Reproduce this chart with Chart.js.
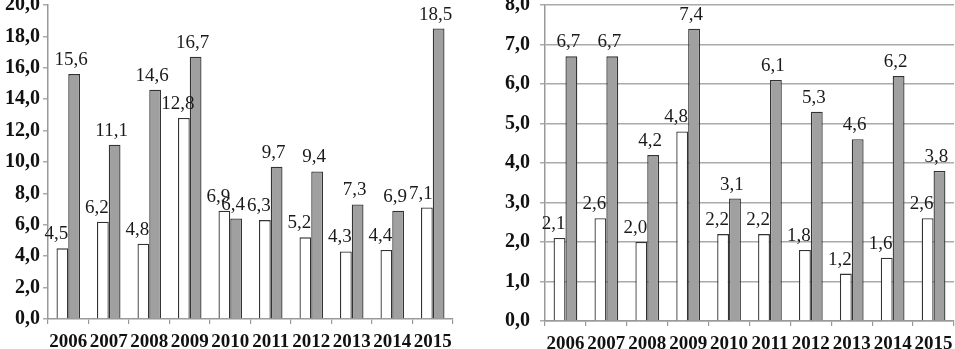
<!DOCTYPE html>
<html>
<head>
<meta charset="utf-8">
<script src="https://cdn.jsdelivr.net/npm/chart.js@4"></script>
<style>
  html, body { margin: 0; padding: 0; background: #fff; }
  body { width: 955px; height: 349px; position: relative; overflow: hidden; }
  .box { position: absolute; top: 0; height: 349px; }
  #b1 { left: 0; width: 462px; }
  #b2 { left: 470px; width: 485px; }
</style>
</head>
<body>
<div class="box" id="b1"><canvas id="c1"></canvas></div>
<div class="box" id="b2"><canvas id="c2"></canvas></div>
<script>
const years = ['2006','2007','2008','2009','2010','2011','2012','2013','2014','2015'];
const leftWhite = [4.5, 6.2, 4.8, 12.8, 6.9, 6.3, 5.2, 4.3, 4.4, 7.1];
const leftGray  = [15.6, 11.1, 14.6, 16.7, 6.4, 9.7, 9.4, 7.3, 6.9, 18.5];
const rightWhite = [2.1, 2.6, 2.0, 4.8, 2.2, 2.2, 1.8, 1.2, 1.6, 2.6];
const rightGray  = [6.7, 6.7, 4.2, 7.4, 3.1, 6.1, 5.3, 4.6, 6.2, 3.8];
const leftTicks = { min: 0, max: 20, step: 2 };
const rightTicks = { min: 0, max: 8, step: 1 };

const fmt = v => v.toFixed(1).replace('.', ',');
const SERIF = "'Liberation Serif', 'Times New Roman', serif";

const labelPlugin = {
  id: 'valLabels',
  afterDatasetsDraw(chart) {
    const ctx = chart.ctx;
    ctx.save();
    ctx.font = '19px ' + SERIF;
    ctx.fillStyle = '#1a1a1a';
    ctx.textAlign = 'center';
    ctx.textBaseline = 'alphabetic';
    chart.data.datasets.forEach((ds, i) => {
      const meta = chart.getDatasetMeta(i);
      const dx = i === 0 ? -6 : -3;
      meta.data.forEach((el, j) => {
        ctx.fillText(fmt(ds.data[j]), el.x + dx, el.y - 9);
      });
    });
    ctx.restore();
  }
};

function makeChart(id, white, gray, t, opts) {
  return new Chart(document.getElementById(id), {
    type: 'bar',
    data: {
      labels: years,
      datasets: [
        { data: white, backgroundColor: '#ffffff', borderColor: '#333333', borderWidth: 1.3 },
        { data: gray, backgroundColor: '#a0a0a0', borderColor: '#333333', borderWidth: 1.3 }
      ]
    },
    options: {
      responsive: true,
      maintainAspectRatio: false,
      animation: false,
      events: [],
      datasets: { bar: { categoryPercentage: 0.58, barPercentage: 1.0 } },
      layout: { padding: { top: 5, right: opts.padRight, left: 0, bottom: 0 } },
      plugins: { legend: { display: false }, tooltip: { enabled: false } },
      scales: {
        x: {
          offset: true,
          grid: { display: true, offset: true, drawOnChartArea: false, drawTicks: true, tickLength: 5, color: '#999999', lineWidth: 1.2 },
          border: { display: true, color: '#999999', width: 1.5 },
          ticks: { color: '#111111', font: { family: SERIF, size: 19, weight: 'bold' }, padding: 7, maxRotation: 0, autoSkip: false },
          afterFit(s) { s.height = opts.xH; s.paddingLeft = 0; s.paddingRight = 0; }
        },
        y: {
          min: t.min, max: t.max,
          grid: { display: true, drawOnChartArea: opts.grid, drawTicks: true, tickLength: 5, color: '#aaaaaa', lineWidth: 1.5 },
          border: { display: true, color: '#999999', width: 1.5 },
          ticks: { stepSize: t.step, color: '#111111', font: { family: SERIF, size: 20, weight: 'bold' }, padding: opts.yPad, callback: v => fmt(v) },
          afterFit(s) { s.width = opts.yW; s.paddingTop = 0; s.paddingBottom = 0; }
        }
      }
    },
    plugins: [labelPlugin]
  });
}

makeChart('c1', leftWhite, leftGray, leftTicks, { padRight: 9, xH: 30, yW: 48, grid: false, yPad: 3 });
makeChart('c2', rightWhite, rightGray, rightTicks, { padRight: 1, xH: 28, yW: 75, grid: true, yPad: 10 });
</script>
</body>
</html>
